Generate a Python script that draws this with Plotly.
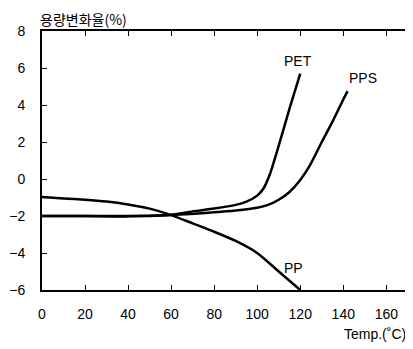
import plotly.graph_objects as go

pet_x = [0, 20, 40, 50, 60, 70, 80, 90, 95, 100, 103, 106, 110, 115, 120]
pet_y = [-2, -2, -2, -2, -1.93, -1.75, -1.6, -1.4, -1.22, -0.9, -0.5, 0.3, 1.8, 3.8, 5.7]

pps_x = [0, 20, 40, 60, 80, 90, 100, 105, 110, 115, 120, 125, 130, 135, 140, 142]
pps_y = [-2, -2, -2.02, -1.95, -1.8, -1.7, -1.55, -1.4, -1.12, -0.7, -0.05, 0.85, 2.0, 3.1, 4.3, 4.75]

pp_x = [0, 10, 20, 30, 40, 50, 60, 70, 80, 90, 100, 110, 120]
pp_y = [-0.97, -1.05, -1.12, -1.22, -1.38, -1.6, -1.95, -2.4, -2.85, -3.35, -4.0, -5.0, -6.0]

x_ticks = [0, 20, 40, 60, 80, 100, 120, 140, 160]
y_ticks = [-6, -4, -2, 0, 2, 4, 6, 8]

fig = go.Figure()
for xs, ys in [(pet_x, pet_y), (pps_x, pps_y), (pp_x, pp_y)]:
    fig.add_trace(go.Scatter(x=xs, y=ys, mode="lines",
                             line=dict(color="black", width=2.5, shape="spline", smoothing=0.6),
                             showlegend=False, hoverinfo="skip"))

# page body has an 8px default margin; figure is sized to fit inside the window
font = dict(family="Liberation Sans, Arial, sans-serif", size=14, color="black")
fig.update_layout(
    width=405, height=341,
    margin=dict(l=34, r=3, t=23, b=59),
    paper_bgcolor="white", plot_bgcolor="white",
    font=font,
    xaxis=dict(range=[0, 171], tickvals=x_ticks, ticks="inside", ticklen=5, tickcolor="black",
               showline=True, linecolor="black", linewidth=2, mirror="ticks", showgrid=False,
               zeroline=False, tickfont=font, automargin=False, ticklabelstandoff=10),
    yaxis=dict(range=[-6, 8], tickvals=y_ticks, ticks="inside", ticklen=5, tickcolor="black",
               showline=True, linecolor="black", linewidth=2, mirror="ticks", showgrid=False,
               zeroline=False, tickfont=font, ticklabelstandoff=12, automargin=False),
    annotations=[
        dict(text="용량변화율(%)", x=0, y=1, xref="paper", yref="paper", xanchor="left",
             yanchor="bottom", showarrow=False, xshift=-4, yshift=0,
             font=dict(family="Noto Sans CJK KR", size=14, color="black")),
        dict(text="Temp.(˚C)", x=1, y=0, xref="paper", yref="paper", xanchor="right",
             yanchor="top", showarrow=False, xshift=-2, yshift=-34,
             font=dict(family="Liberation Sans, Arial, sans-serif", size=14, color="black")),
        dict(text="PET", x=119, y=6.4, showarrow=False, font=dict(size=14, color="black")),
        dict(text="PPS", x=149, y=5.45, showarrow=False, font=dict(size=14, color="black")),
        dict(text="PP", x=117, y=-4.8, showarrow=False, font=dict(size=14, color="black")),
    ],
)
fig.write_html("out.html")
